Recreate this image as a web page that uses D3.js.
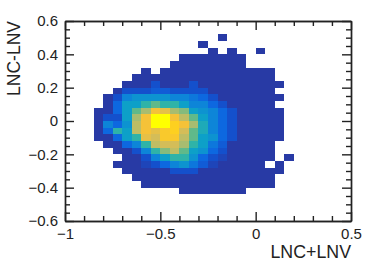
<!DOCTYPE html>
<html>
<head>
<meta charset="UTF-8">
<script src="https://d3js.org/d3.v7.min.js"></script>
<style>
  html, body { margin: 0; padding: 0; background: #fff; }
  text { font-family: "Liberation Sans", Arial, sans-serif; fill: #222; }
</style>
</head>
<body>
<svg id="chart" width="382" height="270"></svg>
<script>
// histogram bins, x is -1..0.5 in 0.05 steps, y is 0.6..-0.6 in 0.04 steps (top row first)
const binWidth = 0.05;
const binHeight = 0.04;
const _ = 0;
const counts = [
  [],
  [],
  [_,_,_,_,_,_,_,_,_,_,_,_,_,_,_,_,1],
  [_,_,_,_,_,_,_,_,_,_,_,_,_,_,1],
  [_,_,_,_,_,_,_,_,_,_,_,_,_,_,_,1,_,1,_,_,1],
  [_,_,_,_,_,_,_,_,_,_,_,_,1,1,1,1,1,1,1],
  [_,_,_,_,_,_,_,_,_,_,_,1,1,1,1,1,1,1,1],
  [_,_,_,_,_,_,_,_,1,_,1,1,1,1,1,1,1,1,1,1,1,1],
  [_,_,_,_,_,_,_,1,1,1,1,1,1,1,1,1,1,1,1,1,1,1],
  [_,_,_,_,_,_,1,1,1,2,1,1,1,2,1,1,1,1,1,1,1,1,1],
  [_,_,_,_,_,1,2,2,2,2.5,2.5,2,2,2,2,1,1,1,1,1,1,1],
  [_,_,_,_,1,2,4,4.5,4.5,4.5,4.5,4,4,3.5,3,2,1,1,1,1,1,1,1],
  [_,_,_,_,1,3,5,5,6,7,6,6,5,4,4,3,2,1,1,1,1,1],
  [_,_,_,1,1,3,5,7,8,10,9.5,8,7.5,5,4.5,4,3,2,1,1,1,1,1],
  [_,_,_,1,2,2,5,8,10,12,12,10,8.5,7,5,4,3,2,1,1,1,1,1],
  [_,_,_,1,4,3,4.5,8.5,10,12,12,11,10,8,5.5,4,3,2,1,1,1,1,1],
  [_,_,_,1,3,6,5,8.5,10,9.5,10.5,11,9,7,5.5,4,3,2,1,1,1,1,1],
  [_,_,_,1,1,3,5,6,9.5,9,10.5,10.5,8.5,7,5,4.5,3,2,1,1,1,1,1],
  [_,_,_,_,1,1,3,4,6,8.5,9,9,8,6,5,3.5,2.5,1,1,1,1,1],
  [_,_,_,_,_,1,1,2,4,6,7.5,8.5,7,5,4.5,3,2,1,1,1,1,1],
  [_,_,_,_,_,_,1,1,2,4,5,6,6,4.5,3,2,1.5,1,1,1,1,1,_,1],
  [_,_,_,_,_,1,1,1,1.5,2,3,4,4.5,3.5,2.5,1.5,1,1,1,1,1,_,1],
  [_,_,_,_,_,_,1,1,1,1,1,2,2,2,1,1,1,1,1,1,1,1,1],
  [_,_,_,_,_,_,_,1,1,1,1,1,1,1,1,1,1,1,1,1,1,1],
  [_,_,_,_,_,_,_,_,1,1,1,1,1,1,1,1,1,1,1,1,1,1],
  [_,_,_,_,_,_,_,_,_,_,_,_,1,1,1,1,1,1,1]
];

const xDomain = [-1, 0.5];
const yDomain = [-0.6, 0.6];
const xMajor = [-1, -0.5, 0, 0.5];
const yMajor = [-0.6, -0.4, -0.2, 0, 0.2, 0.4, 0.6];
const xLabel = "LNC+LNV";
const yLabel = "LNC-LNV";

const palette = ["#283aa5", "#1450cc", "#0d68e0", "#0d85d8", "#0da0c8", "#2fb3a8",
                 "#60b98a", "#a8bc70", "#d4bd58", "#f5c238", "#fdd020", "#ffff00"];

const margin = { top: 21, right: 31, bottom: 49, left: 65 };
const width = 382;
const height = 270;
const chartWidth = width - margin.left - margin.right;
const chartHeight = height - margin.top - margin.bottom;

const svg = d3.select("#chart");
const xScale = d3.scaleLinear().domain(xDomain).range([margin.left, margin.left + chartWidth]);
const yScale = d3.scaleLinear().domain(yDomain).range([margin.top + chartHeight, margin.top]);
const colorScale = d3.scaleLinear().domain(d3.range(1, palette.length + 1)).range(palette);

// cells
counts.forEach((row, k) => {
  const yTop = yDomain[1] - k * binHeight;
  row.forEach((v, i) => {
    if (v == 0) return;
    const xLeft = xDomain[0] + i * binWidth;
    svg.append("rect")
      .attr("x", xScale(xLeft))
      .attr("y", yScale(yTop))
      .attr("width", xScale(xLeft + binWidth) - xScale(xLeft))
      .attr("height", yScale(yTop - binHeight) - yScale(yTop))
      .attr("fill", colorScale(v))
      .attr("shape-rendering", "crispEdges");
  });
});

const fmt = d => String(d).replace("-", "\u2212");
const xMinor = d3.range(-1, 0.5001, 0.1).map(d => +d.toFixed(2)).filter(d => !xMajor.includes(d));
const yMinor = d3.range(-0.6, 0.6001, 0.05).map(d => +d.toFixed(2)).filter(d => !yMajor.includes(d));

function drawAxis(axisFn, scale, values, size, tx, ty, labels) {
  const g = svg.append("g").attr("transform", "translate(" + tx + "," + ty + ")");
  const axis = axisFn(scale).tickValues(values).tickSizeInner(-size).tickSizeOuter(0).tickPadding(7);
  axis.tickFormat(labels ? fmt : "");
  g.call(axis);
  g.selectAll("path, line").attr("stroke", "#222").attr("stroke-width", 1.4);
  g.selectAll("text").attr("font-size", 15);
  return g;
}

const xLeft0 = margin.left, xRight0 = margin.left + chartWidth;
const yTop0 = margin.top, yBottom0 = margin.top + chartHeight;

// ticks point inward on all four sides
drawAxis(d3.axisBottom, xScale, xMajor, 9, 0, yBottom0, true);
drawAxis(d3.axisBottom, xScale, xMinor, 5, 0, yBottom0, false);
drawAxis(d3.axisTop, xScale, xMajor, 9, 0, yTop0, false);
drawAxis(d3.axisTop, xScale, xMinor, 5, 0, yTop0, false);
drawAxis(d3.axisLeft, yScale, yMajor, 9, xLeft0, 0, true);
drawAxis(d3.axisLeft, yScale, yMinor, 5, xLeft0, 0, false);
drawAxis(d3.axisRight, yScale, yMajor, 9, xRight0, 0, false);
drawAxis(d3.axisRight, yScale, yMinor, 5, xRight0, 0, false);

svg.append("text")
  .attr("x", xRight0)
  .attr("y", 258)
  .attr("text-anchor", "end")
  .attr("font-size", 17.8)
  .text(xLabel);

svg.append("text")
  .attr("transform", "translate(20," + yTop0 + ") rotate(-90)")
  .attr("text-anchor", "end")
  .attr("font-size", 17.5)
  .text(yLabel);
</script>
</body>
</html>
